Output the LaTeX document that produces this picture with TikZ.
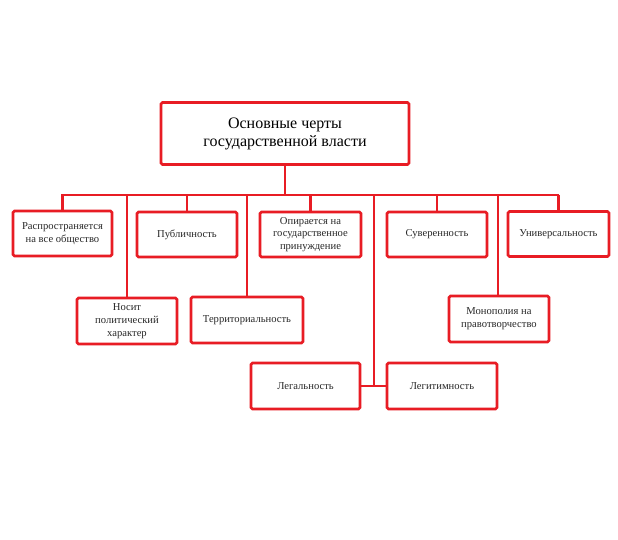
\documentclass[tikz,border=0pt]{standalone}
\usepackage{fontspec}
\setmainfont{Liberation Serif}
\definecolor{boxred}{RGB}{232,28,36}
\definecolor{txtgray}{RGB}{40,40,40}
\begin{document}
\begin{tikzpicture}[x=1pt,y=-1pt,
  box/.style={draw=boxred,line width=2.8pt,rounded corners=1.5pt,fill=white,
    align=center,font=\fontsize{10.6}{12.8}\selectfont,text=txtgray,inner sep=2pt},
  link/.style={draw=boxred,line width=2.8pt}]
\useasboundingbox (0,0) rectangle (618,539);
\fill[white] (0,0) rectangle (618,539);
% title
\node[box,minimum width=248pt,minimum height=62pt,font=\fontsize{16}{18}\selectfont,text=black] (title) at (285,133.5) {Основные черты\\государственной власти};
% row 1
\node[box,minimum width=99pt,minimum height=45pt] (a) at (62.5,233.5) {Распространяется\\на все общество};
\node[box,minimum width=100pt,minimum height=45pt] (b) at (187,234.5) {Публичность};
\node[box,minimum width=101pt,minimum height=45pt] (c) at (310.5,234.5) {Опирается на\\государственное\\принуждение};
\node[box,minimum width=100pt,minimum height=45pt] (d) at (437,234.5) {Суверенность};
\node[box,minimum width=101pt,minimum height=45pt] (e) at (558.5,234) {Универсальность};
% row 2
\node[box,minimum width=100pt,minimum height=46pt] (f) at (127,321) {Носит\\политический\\характер};
\node[box,minimum width=112pt,minimum height=46pt] (g) at (247,320) {Территориальность};
\node[box,minimum width=100pt,minimum height=46pt] (h) at (499,319) {Монополия на\\правотворчество};
% row 3
\node[box,minimum width=109pt,minimum height=46pt] (i) at (305.5,386) {Легальность};
\node[box,minimum width=110pt,minimum height=46pt] (j) at (442,386) {Легитимность};
% bus
\coordinate (busL) at (62,195);
\coordinate (busR) at (558,195);
\coordinate (busM) at (374,195);
\coordinate (busF) at (127,195);
\coordinate (busG) at (247,195);
\coordinate (busH) at (498,195);
\draw[link] (title.south) -- (title.south |- busL);
\draw[link,line cap=rect] (busL) -- (busR);
\draw[link] (a.north) -- (a.north |- busL);
\draw[link] (b.north) -- (b.north |- busL);
\draw[link] (c.north) -- (c.north |- busL);
\draw[link] (d.north) -- (d.north |- busL);
\draw[link] (e.north) -- (e.north |- busL);
\draw[link] (busF) -- (busF |- f.north);
\draw[link] (busG) -- (busG |- g.north);
\draw[link] (busH) -- (busH |- h.north);
\draw[link] (busM) -- (busM |- i.east);
\draw[link] (i.east) -- (j.west);
\end{tikzpicture}
\end{document}
